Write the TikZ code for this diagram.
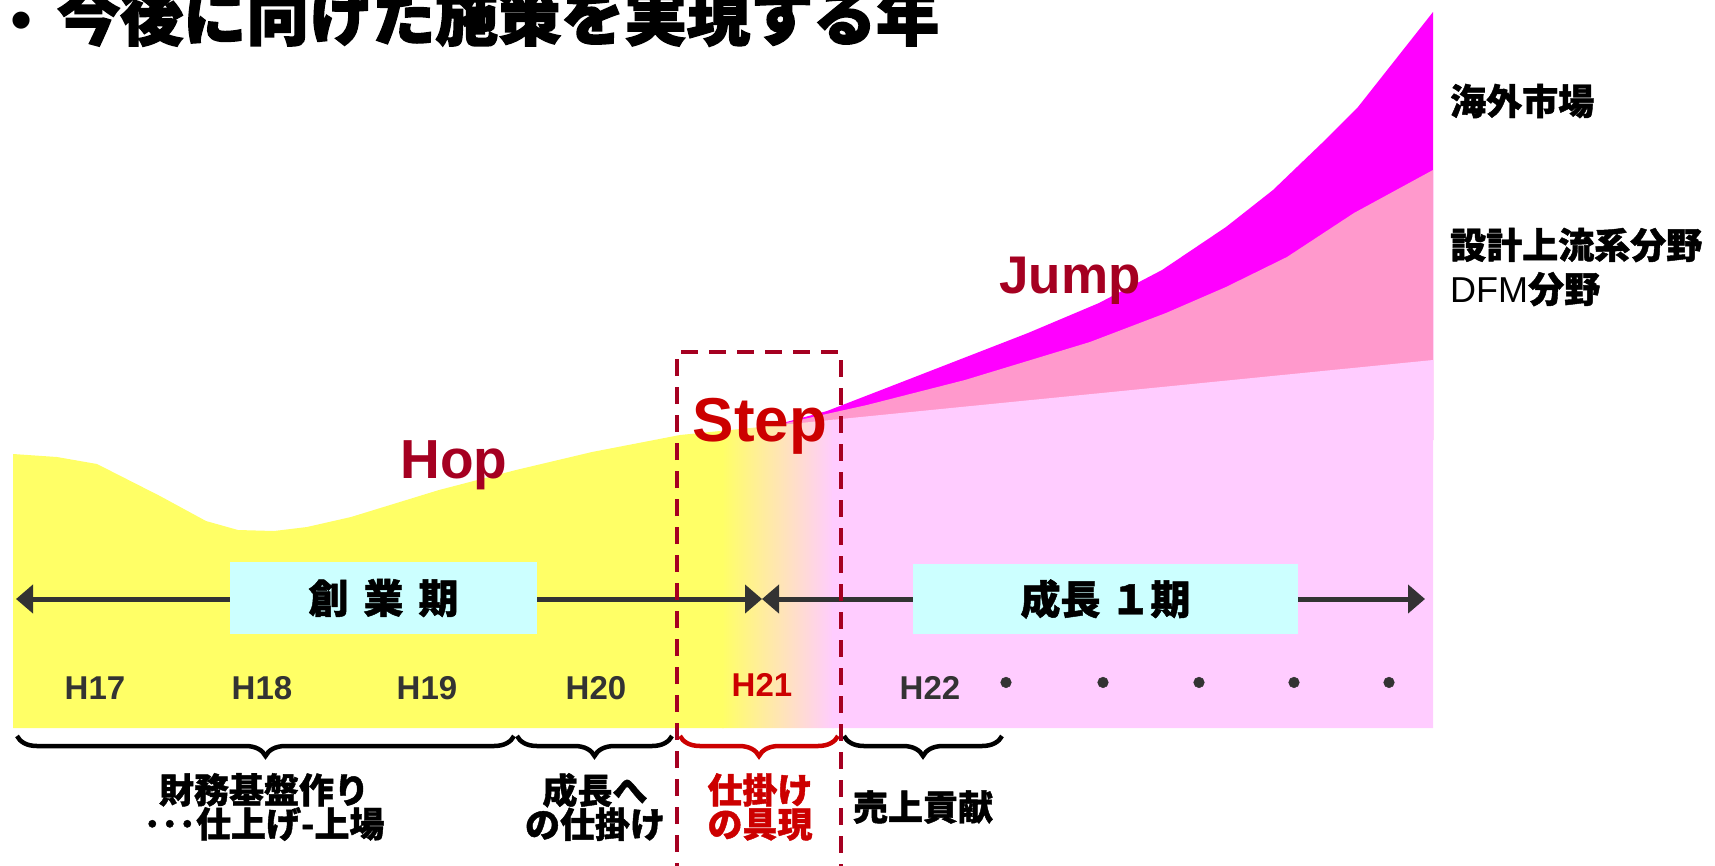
\documentclass[tikz,border=0pt]{standalone}
\usepackage{fontspec}
\setmainfont{Liberation Sans}
\newfontfamily\jp{Noto Sans CJK JP}[BoldFeatures={FakeBold=1.2}]
\newfontfamily\jptitle{Noto Sans CJK JP}[BoldFeatures={FakeBold=2.5}]
\usetikzlibrary{arrows.meta,decorations.pathreplacing}
\definecolor{ylw}{HTML}{FFFF66}
\definecolor{lpink}{HTML}{FFCCFF}
\definecolor{mpink}{HTML}{FF99CC}
\definecolor{mag}{HTML}{FF00FF}
\definecolor{cyanbox}{HTML}{CCFFFF}
\definecolor{darkred}{HTML}{A50021}
\definecolor{brightred}{HTML}{CC0000}
\definecolor{axisgray}{HTML}{333333}
\newcommand\myfs[1]{\fontsize{#1}{#1}\selectfont}
\begin{document}
\begin{tikzpicture}[x=1pt,y=-1pt,
  yearlbl/.style={font=\bfseries\myfs{33}, text=axisgray, inner sep=0, anchor=base},
  dotlbl/.style={font=\jp\bfseries\myfs{38}, text=axisgray, inner sep=0},
  phase/.style={font=\jp\bfseries\myfs{40}, fill=cyanbox, inner sep=0},
  caplbl/.style={font=\jp\bfseries\fontsize{35}{34}\selectfont, align=center, inner sep=0},
  sidelbl/.style={font=\jp\bfseries\fontsize{36}{44}\selectfont, align=left, inner sep=0, anchor=west},
  brc/.style={decorate, decoration={brace, amplitude=20pt, mirror}, line width=4.5pt},
  bigword/.style={font=\bfseries\myfs{55}, text=darkred, inner sep=0, anchor=base},
  axisarrow/.style={axisgray, line width=5pt, {Triangle[length=17pt,width=28pt]}-{Triangle[length=17pt,width=28pt]}}
]
\useasboundingbox (0,0) rectangle (1715,865);

% area chart
\fill[mag] (768,427) -- (827,411) -- (907,380) -- (1028,333) -- (1099,303) -- (1162,270) -- (1226,227) -- (1273,190) -- (1322,143) -- (1358,107) -- (1433,12) -- (1433,440) -- cycle;
\fill[mpink] (768,427) -- (867,405) -- (965,380) -- (1090,342) -- (1166,313) -- (1226,287) -- (1287,257) -- (1354,213) -- (1433,170) -- (1433,440) -- cycle;
\begin{scope}
\clip (13,454) -- (57,457) -- (97,464) -- (160,496) -- (206,521) -- (238,530) -- (274,531) -- (307,527) -- (351,517) -- (439,490) -- (516,470) -- (592,452) -- (680,435) -- (1433,360) -- (1433,728) -- (13,728) -- cycle;
\fill[ylw] (0,300) rectangle (724,740);
\shade[left color=ylw, right color=lpink] (722,300) rectangle (834,740);
\fill[lpink] (832,300) rectangle (1440,740);
\end{scope}

% timeline arrows
\coordinate (L) at (16,599);
\coordinate (M) at (762,599);
\coordinate (R) at (1425,599);
\draw[axisarrow] (L) -- (M);
\draw[axisarrow] (M) -- (R);

\node[phase, minimum width=307pt, minimum height=72pt] (p1) at (383.5,598) {創\hspace{15pt}業\hspace{15pt}期};
\node[phase, minimum width=385pt, minimum height=70pt] (p2) at (1105.5,599) {成長\hspace{10pt}１期};

% years
\node[yearlbl] (y17) at (95,699) {H17};
\node[yearlbl] (y18) at (262,699) {H18};
\node[yearlbl] (y19) at (427,699) {H19};
\node[yearlbl] (y20) at (596,699) {H20};
\node[yearlbl, text=brightred] (y21) at (762,696) {H21};
\node[yearlbl] (y22) at (930,699) {H22};
\node[dotlbl] (d1) at (1006,687) {・};
\node[dotlbl] (d2) at (1103,687) {・};
\node[dotlbl] (d3) at (1199,687) {・};
\node[dotlbl] (d4) at (1294,687) {・};
\node[dotlbl] (d5) at (1389,687) {・};

% braces
\draw[brc] (17,736) -- (514,736);
\draw[brc] (517,736) -- (672,736);
\draw[brc, brightred] (680,736) -- (838,736);
\draw[brc] (844,736) -- (1002,736);

\node[caplbl] (c1) at (264,807) {財務基盤作り\\･･･仕上げ-上場};
\node[caplbl] (c2) at (595,807) {成長へ\\の仕掛け};
\node[caplbl, text=brightred] (c3) at (760,807) {仕掛け\\の具現};
\node[caplbl] (c4) at (923,807) {売上貢献};

% dashed box
\draw[darkred, line width=3.6pt, dash pattern=on 17pt off 11pt] (677,880) -- (677,352) -- (841,352) -- (841,880);

% big words
\node[bigword] (hop) at (454,478) {Hop};
\node[bigword, text=brightred, font=\bfseries\myfs{62}] (step) at (760,441) {Step};
\node[bigword, font=\bfseries\myfs{53}] (jump) at (1070,293) {Jump};

% side labels
\node[sidelbl] (s1) at (1450,101) {海外市場};
\node[sidelbl] (s2) at (1450,267) {設計上流系分野\\{\mdseries\rmfamily DFM}分野};

% title
\node[inner sep=0, font=\myfs{63}] (bul) at (22,27) {•};
\node[inner sep=0, anchor=base west, font=\jptitle\bfseries\myfs{63}] (title) at (57,40) {今後に向けた施策を実現する年};
\end{tikzpicture}
\end{document}
